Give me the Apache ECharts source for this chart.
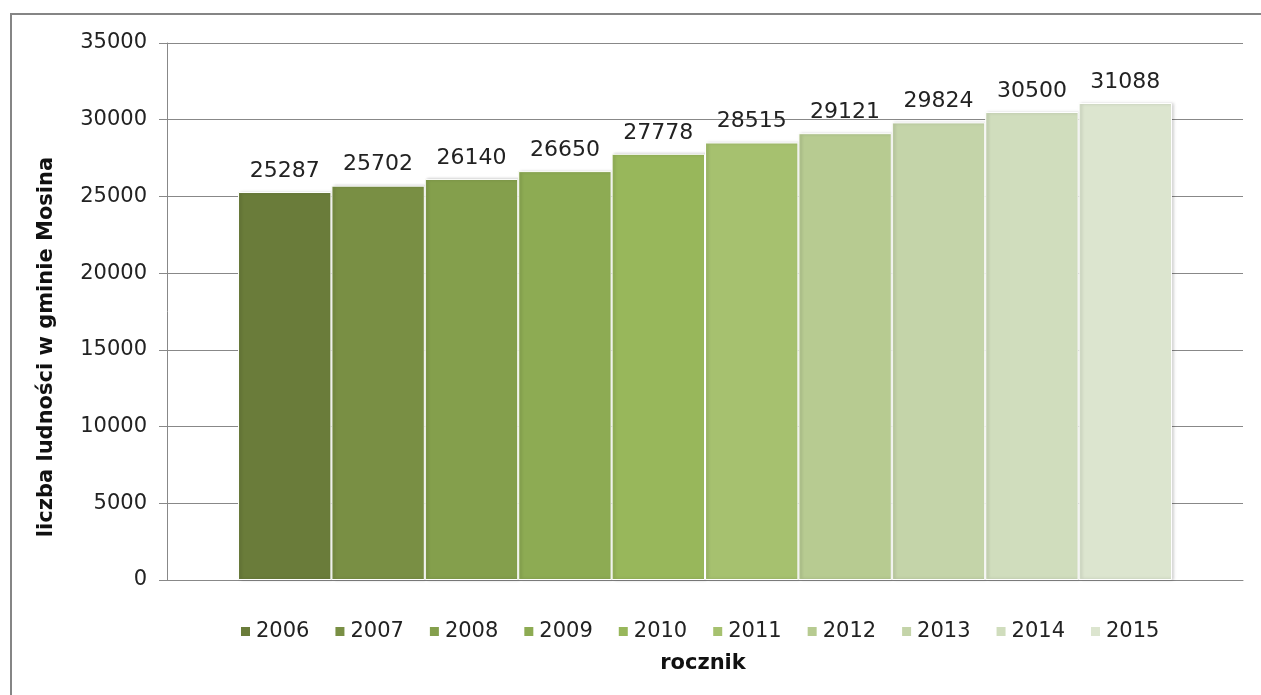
<!DOCTYPE html>
<html><head><meta charset="utf-8">
<script src="https://cdn.jsdelivr.net/npm/echarts@6/dist/echarts.min.js"></script>
<style>html,body{margin:0;padding:0;background:#fff;overflow:hidden}#c{width:1261px;height:695px}</style>
</head><body><div id="c"></div>
<script>
const years = ['2006','2007','2008','2009','2010','2011','2012','2013','2014','2015'];
const population = [25287, 25702, 26140, 26650, 27778, 28515, 29121, 29824, 30500, 31088];
const colors = ['#6a7c3a','#798f44','#849f4c','#8dab53','#98b75b','#a6c16f','#b7cb91','#c4d4a9','#d0ddbd','#dce5cf'];
const yTicks = { min: 0, max: 35000, interval: 5000 };
const yName = 'liczba ludności w gminie Mosina';
const xName = 'rocznik';

const FONT = 'DejaVu Sans';
const chart = echarts.init(document.getElementById('c'), null, {renderer:'canvas'});
const series = years.map((y, i) => ({
  name: y,
  type: 'bar',
  data: [population[i]],
  barGap: 0,
  barCategoryGap: '13.2%',
  itemStyle: {
    color: colors[i],
    borderColor: '#fff',
    borderWidth: 1,
    shadowColor: 'rgba(0,0,0,0.22)',
    shadowBlur: 3,
    shadowOffsetX: 2,
    shadowOffsetY: 0
  },
  label: {
    show: true, position: 'top', distance: 10,
    fontFamily: FONT, fontSize: 22, color: '#222'
  }
}));
chart.setOption({
  animation: false,
  color: colors,
  textStyle: { fontFamily: FONT },
  graphic: [{
    type: 'polyline', shape: { points: [[11, 720], [11, 14], [1300, 14]] },
    style: { fill: null, stroke: '#858585', lineWidth: 2 }, z: -1
  }, {
    type: 'text', x: 703, y: 664,
    style: { text: xName, font: 'bold 21px "DejaVu Sans"', fill: '#111', textAlign: 'center', textVerticalAlign: 'middle' }
  }, {
    type: 'text', x: 47, y: 347, rotation: Math.PI / 2,
    style: { text: yName, font: 'bold 21px "DejaVu Sans"', fill: '#111', textAlign: 'center', textVerticalAlign: 'middle' }
  }],
  grid: { left: 167, right: 18, top: 43, bottom: 115 },
  legend: {
    top: 616, left: 234,
    icon: 'rect', itemWidth: 11, itemHeight: 11, itemGap: 24,
    textStyle: { fontFamily: FONT, fontSize: 21, color: '#222' },
    data: years
  },
  xAxis: {
    type: 'category', data: [''],
    axisLine: { lineStyle: { color: '#888', width: 1 } },
    axisTick: { show: false },
    axisLabel: { show: false }
  },
  yAxis: {
    type: 'value', min: yTicks.min, max: yTicks.max, interval: yTicks.interval,
    axisLine: { show: true, lineStyle: { color: '#888' } },
    axisTick: { show: true, length: 8, lineStyle: { color: '#888' } },
    axisLabel: { fontFamily: FONT, fontSize: 21, color: '#222', margin: 20, formatter: v => String(v) },
    splitLine: { lineStyle: { color: '#888', width: 1 } }
  },
  series: series
});
</script></body></html>
